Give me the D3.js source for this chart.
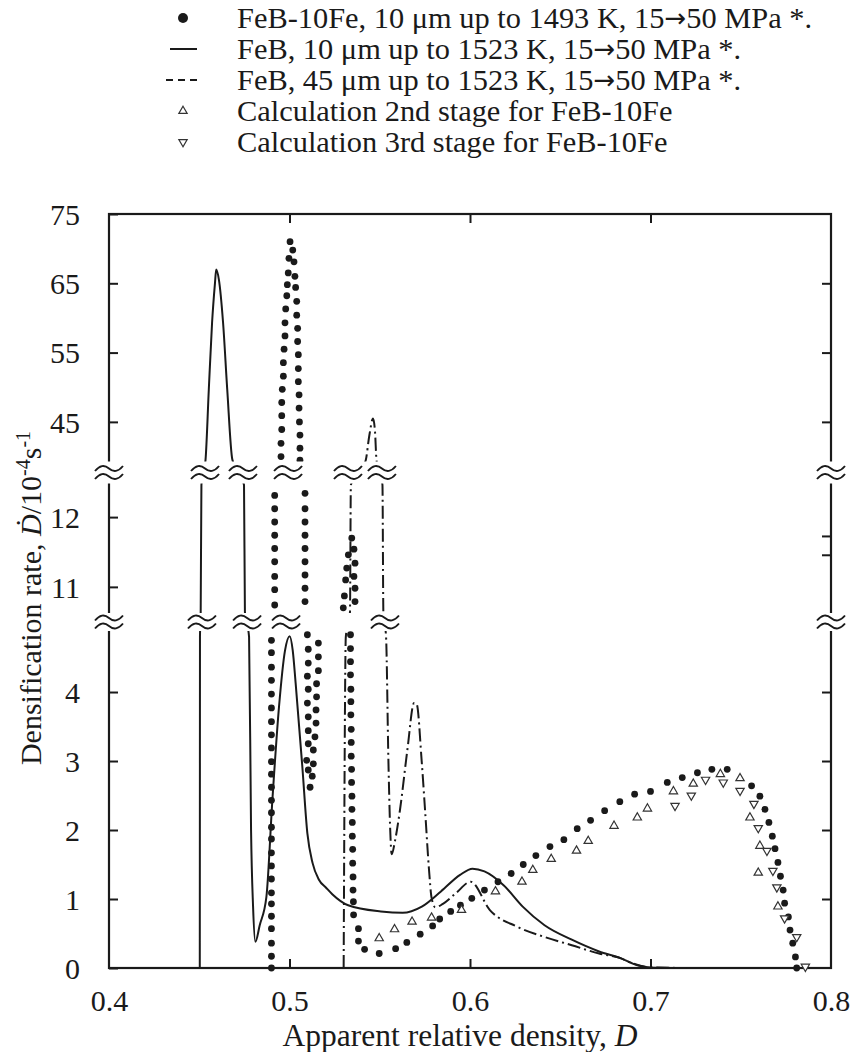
<!DOCTYPE html>
<html>
<head>
<meta charset="utf-8">
<script src="https://cdn.jsdelivr.net/npm/d3@7"></script>
<style>
  body { margin: 0; background: #fff; }
  svg text { font-family: "Liberation Serif", "Times New Roman", "DejaVu Serif", serif; fill: #1a1a1a; }
</style>
</head>
<body>
<div id="chart"></div>
<script>
// x = apparent relative density D, y = densification rate (10^-4 s^-1)
var xTicks = [0.4, 0.5, 0.6, 0.7, 0.8];
var xInnerTicks = [0.5, 0.6, 0.7];
var yTicksLeft = [0, 1, 2, 3, 4, 11, 12, 45, 55, 65, 75];
var yTicksRight = [1, 2, 3, 4, 11.46, 11.73, 45, 55, 65];

// broken axis: bottom 0..4.87, middle 10.64..12.46, top 39.5..75
var yBreaks = [0, 4.87, 10.64, 12.46, 39.5, 75];
var breakUpperX = [0.4, 0.4532, 0.4742, 0.4992, 0.5324, 0.5512, 0.8];
var breakLowerX = [0.4, 0.4515, 0.4765, 0.4981, 0.5529, 0.8];

var legendLabels = [
  "FeB-10Fe, 10 \u03bcm up to 1493 K, 15\u219250 MPa *.",
  "FeB, 10 \u03bcm up to 1523 K, 15\u219250 MPa *.",
  "FeB, 45 \u03bcm up to 1523 K, 15\u219250 MPa *.",
  "Calculation 2nd stage for FeB-10Fe",
  "Calculation 3rd stage for FeB-10Fe"
];

// FeB, 10 um (solid line)
var feb10 = [
  [0.4503, 0], [0.4504, 4.8], [0.4508, 10.6], [0.4512, 12.5], [0.4535, 39.6], [0.4553, 49.7],
  [0.4571, 59.3], [0.4587, 65.0], [0.4594, 67.0], [0.4609, 65.5], [0.4632, 59.3], [0.4655, 49.7],
  [0.4683, 39.6], [0.4748, 12.5], [0.4753, 10.6], [0.4776, 4.8], [0.4787, 2.0], [0.4798, 0.9],
  [0.4811, 0.38], [0.4835, 0.62], [0.4872, 1.03], [0.4905, 2.43], [0.4942, 3.79], [0.4975, 4.6],
  [0.5001, 4.81], [0.5018, 4.6], [0.5034, 4.13], [0.5071, 2.92], [0.5099, 1.95], [0.5128, 1.52],
  [0.5163, 1.28], [0.5204, 1.16], [0.5237, 1.07], [0.5325, 0.91], [0.5506, 0.82], [0.5627, 0.80],
  [0.5733, 0.89], [0.5839, 1.11], [0.5945, 1.35], [0.6014, 1.44], [0.608, 1.40], [0.6186, 1.20],
  [0.6292, 0.89], [0.6413, 0.62], [0.6564, 0.41], [0.6715, 0.24], [0.6837, 0.14], [0.6927, 0.04],
  [0.7017, 0.005], [0.72, 0], [0.78, 0]
];

// FeB, 45 um (dash-dot line)
var feb45 = [
  [0.5300, 0], [0.5312, 4.8], [0.5335, 10.6], [0.5340, 12.5], [0.5422, 39.0], [0.5442, 43.0],
  [0.5463, 45.5], [0.5474, 43.5], [0.5482, 39.0], [0.5515, 12.5], [0.5520, 10.6], [0.5535, 4.8],
  [0.5548, 3.0], [0.5558, 2.0], [0.5566, 1.65], [0.5585, 1.85], [0.5612, 2.29], [0.5653, 3.16],
  [0.5690, 3.84], [0.5705, 3.82], [0.5732, 3.01], [0.5751, 2.29], [0.5773, 1.42], [0.5787, 1.02],
  [0.5808, 0.88], [0.5850, 0.93], [0.5920, 1.08], [0.6004, 1.25], [0.6110, 0.84], [0.6260, 0.60],
  [0.6413, 0.45], [0.6564, 0.33], [0.6715, 0.21], [0.6837, 0.14], [0.6897, 0.07], [0.7000, 0.01],
  [0.7200, 0]
];

// FeB-10Fe measured points
var feb10FeSpike1 = [
  [0.4900, 0], [0.4900, 0.17], [0.4900, 0.36], [0.4900, 0.57], [0.4900, 0.75], [0.4900, 0.93],
  [0.4900, 1.09], [0.4900, 1.29], [0.4900, 1.48], [0.4900, 1.67], [0.4900, 1.87], [0.4900, 2.04],
  [0.4900, 2.25], [0.4900, 2.43], [0.4900, 2.62], [0.4900, 2.81], [0.4900, 2.99], [0.4900, 3.19],
  [0.4900, 3.38], [0.4900, 3.57], [0.4900, 3.77], [0.4900, 3.97], [0.4900, 4.17], [0.4900, 4.36],
  [0.4900, 4.57], [0.4900, 4.75],
  [0.4918, 10.74], [0.4918, 10.96], [0.4918, 11.15], [0.4918, 11.36], [0.4918, 11.55],
  [0.4918, 11.74], [0.4918, 11.93], [0.4918, 12.12], [0.4918, 12.31],
  [0.4953, 40.0], [0.4953, 41.9], [0.4957, 43.9], [0.4957, 45.9], [0.4957, 47.8], [0.4960, 49.7],
  [0.4966, 51.6], [0.4966, 53.55], [0.4970, 55.5], [0.4975, 57.4], [0.4975, 59.3], [0.4979, 61.3],
  [0.4985, 63.2], [0.4988, 64.8], [0.4993, 66.5], [0.4997, 68.6], [0.5003, 71.0],
  [0.5018, 69.8], [0.5025, 68.1], [0.5030, 66.0], [0.5034, 64.4], [0.5040, 62.4], [0.5040, 60.4],
  [0.5045, 58.5], [0.5045, 56.6], [0.5049, 54.7], [0.5049, 52.7], [0.5049, 50.8], [0.5053, 48.9],
  [0.5053, 47.0], [0.5055, 45.0], [0.5058, 43.1], [0.5058, 41.2], [0.5058, 39.3],
  [0.5086, 12.34], [0.5086, 12.12], [0.5086, 11.93], [0.5086, 11.74], [0.5086, 11.55],
  [0.5086, 11.36], [0.5086, 11.17], [0.5086, 10.98], [0.5086, 10.79],
  [0.5099, 4.83], [0.5160, 4.71], [0.5104, 4.62], [0.5160, 4.51], [0.5104, 4.42], [0.5160, 4.31],
  [0.5099, 4.23], [0.5150, 4.12], [0.5104, 4.04], [0.5150, 3.93], [0.5099, 3.84], [0.5147, 3.74],
  [0.5104, 3.64], [0.5147, 3.55], [0.5104, 3.44], [0.5141, 3.35], [0.5104, 3.25], [0.5132, 3.16],
  [0.5095, 3.01], [0.5132, 2.96], [0.5104, 2.87], [0.5126, 2.78], [0.5114, 2.62]
];
var feb10FeSpike2 = [
  [0.5345, 11.70], [0.5326, 11.46], [0.5317, 11.27], [0.5311, 11.10], [0.5304, 10.87], [0.5298, 10.70],
  [0.5357, 11.54], [0.5363, 11.34], [0.5357, 11.15], [0.5363, 10.98], [0.5363, 10.79],
  [0.5338, 4.83], [0.5338, 4.63], [0.5338, 4.44], [0.5338, 4.25], [0.5340, 4.04], [0.5340, 3.86],
  [0.5340, 3.67], [0.5342, 3.46], [0.5342, 3.27], [0.5342, 3.07], [0.5344, 2.88], [0.5344, 2.69],
  [0.5346, 2.49], [0.5346, 2.30], [0.5348, 2.11], [0.5348, 1.91], [0.5350, 1.72], [0.5350, 1.52],
  [0.5352, 1.32], [0.5352, 1.13], [0.5354, 0.96], [0.5355, 0.77]
];
var feb10FeTail = [
  [0.5382, 0.57], [0.5382, 0.39], [0.5416, 0.27], [0.5497, 0.21], [0.5588, 0.28], [0.5650, 0.37],
  [0.5724, 0.49], [0.5793, 0.61], [0.5832, 0.71], [0.5893, 0.82], [0.5947, 0.91], [0.6010, 1.01],
  [0.6080, 1.13], [0.6155, 1.25], [0.6228, 1.37], [0.6295, 1.50], [0.6365, 1.63], [0.6443, 1.76],
  [0.6520, 1.86], [0.6594, 2.02], [0.6668, 2.14], [0.6746, 2.28], [0.6830, 2.41], [0.6912, 2.52],
  [0.7000, 2.56], [0.7093, 2.69], [0.7176, 2.76], [0.7260, 2.83], [0.7340, 2.88], [0.7425, 2.88],
  [0.7560, 2.64], [0.7606, 2.49], [0.7634, 2.30], [0.7656, 2.11], [0.7675, 1.91], [0.7690, 1.73],
  [0.7706, 1.53], [0.7720, 1.33], [0.7735, 1.13], [0.7743, 0.94], [0.7764, 0.74], [0.7773, 0.55],
  [0.7788, 0.36], [0.7803, 0.16], [0.7810, 0]
];

// calculations
var calc2nd = [
  [0.5497, 0.43], [0.5582, 0.56], [0.5679, 0.67], [0.5787, 0.73], [0.5953, 0.84], [0.6141, 1.11],
  [0.6288, 1.25], [0.6348, 1.42], [0.6450, 1.58], [0.6590, 1.70], [0.6655, 1.84], [0.6798, 2.06],
  [0.6927, 2.18], [0.6983, 2.31], [0.7127, 2.56], [0.7237, 2.67], [0.7387, 2.81], [0.7496, 2.75],
  [0.7551, 2.18], [0.7606, 1.77], [0.7597, 1.38], [0.7706, 0.89]
];
var calc3rd = [
  [0.7136, 2.35], [0.7226, 2.50], [0.7305, 2.73], [0.7403, 2.69], [0.7496, 2.57], [0.7573, 2.38],
  [0.7597, 2.03], [0.7645, 1.70], [0.7678, 1.41], [0.7700, 1.17], [0.7743, 0.72], [0.7810, 0.45],
  [0.7858, 0.02]
];

var width = 853, height = 1052;
var ink = "#1a1a1a";
var serif = '"Liberation Serif", "Times New Roman", serif';

var svg = d3.select("#chart").append("svg")
    .attr("width", width)
    .attr("height", height);

var x = d3.scaleLinear().domain([0.4, 0.8]).range([109, 831]);
// piecewise scale: each panel has its own pixel span, the gaps get covered later
var y = d3.scaleLinear().domain(yBreaks).range([968, 632, 612, 485, 460, 214]);

// frame
svg.append("rect")
    .attr("x", x(0.4)).attr("y", y(75))
    .attr("width", x(0.8) - x(0.4)).attr("height", y(0) - y(75))
    .attr("fill", "none").attr("stroke", ink).attr("stroke-width", 2.2);

// axes
var gx = svg.append("g").attr("transform", "translate(0," + y(0) + ")")
    .call(d3.axisBottom(x).tickValues(xTicks).tickFormat(d3.format(".1f"))
        .tickSizeInner(0).tickSizeOuter(0).tickPadding(22));
var gxIn = svg.append("g").attr("transform", "translate(0," + y(0) + ")")
    .call(d3.axisBottom(x).tickValues(xInnerTicks).tickFormat("").tickSizeInner(-9).tickSizeOuter(0));
var gxTop = svg.append("g").attr("transform", "translate(0," + y(75) + ")")
    .call(d3.axisTop(x).tickValues(xInnerTicks).tickFormat("").tickSizeInner(-9).tickSizeOuter(0));
var gy = svg.append("g").attr("transform", "translate(" + x(0.4) + ",0)")
    .call(d3.axisLeft(y).tickValues(yTicksLeft).tickFormat(d3.format("d"))
        .tickSizeInner(-9).tickSizeOuter(0).tickPadding(29));
var gyR = svg.append("g").attr("transform", "translate(" + x(0.8) + ",0)")
    .call(d3.axisRight(y).tickValues(yTicksRight).tickFormat("").tickSizeInner(-9).tickSizeOuter(0));

[gx, gxIn, gxTop, gy, gyR].forEach(function (g) {
    g.select(".domain").remove();
    g.attr("font-family", serif);
    g.selectAll("line").attr("stroke", ink).attr("stroke-width", 2);
    g.selectAll("text").attr("font-size", 30).attr("fill", ink);
});
gy.selectAll("text").attr("dy", "0.34em");

// curves
var line = d3.line()
    .x(function (d) { return x(d[0]); })
    .y(function (d) { return y(d[1]); })
    .curve(d3.curveMonotoneX);

svg.append("path").datum(feb10)
    .attr("d", line).attr("fill", "none")
    .attr("stroke", ink).attr("stroke-width", 2);

svg.append("path").datum(feb45)
    .attr("d", line).attr("fill", "none")
    .attr("stroke", ink).attr("stroke-width", 2)
    .attr("stroke-dasharray", "13,4,2,4");

// measured points
var dots = feb10FeSpike1.concat(feb10FeSpike2, feb10FeTail);
svg.append("g").selectAll("circle")
    .data(dots).enter().append("circle")
    .attr("cx", function (d) { return x(d[0]); })
    .attr("cy", function (d) { return y(d[1]); })
    .attr("r", 3.4)
    .attr("fill", ink);

var tri = d3.symbol().type(d3.symbolTriangle).size(30);
svg.append("g").selectAll("path")
    .data(calc2nd).enter().append("path")
    .attr("d", tri)
    .attr("transform", function (d) { return "translate(" + x(d[0]) + "," + y(d[1]) + ")"; })
    .attr("fill", "#fff").attr("stroke", "#333").attr("stroke-width", 1.2);
svg.append("g").selectAll("path")
    .data(calc3rd).enter().append("path")
    .attr("d", tri)
    .attr("transform", function (d) { return "translate(" + x(d[0]) + "," + y(d[1]) + ") rotate(180)"; })
    .attr("fill", "#fff").attr("stroke", "#333").attr("stroke-width", 1.2);

// cover the axis gaps and put the break marks on top
var bands = [[y(10.64) + 1, y(4.87) - 1], [y(39.5) + 1.5, y(12.46) - 1.5]];
svg.append("g").selectAll("rect")
    .data(bands).enter().append("rect")
    .attr("x", x(0.4) - 4).attr("width", x(0.8) - x(0.4) + 8)
    .attr("y", function (d) { return d[0]; })
    .attr("height", function (d) { return d[1] - d[0]; })
    .attr("fill", "#fff");

var wave = "M-14,2.5 Q-7,-6 0,0 T14,-2.5";
function breakMarks(xs, yc) {
    var g = svg.append("g");
    xs.forEach(function (v) {
        [-4, 4].forEach(function (off) {
            g.append("path")
                .attr("d", wave)
                .attr("transform", "translate(" + x(v) + "," + (yc + off) + ")")
                .attr("fill", "none").attr("stroke", ink).attr("stroke-width", 1.9);
        });
    });
}
breakMarks(breakUpperX, (y(39.5) + y(12.46)) / 2);
breakMarks(breakLowerX, (y(10.64) + y(4.87)) / 2);

// axis titles
svg.append("text")
    .attr("x", 460).attr("y", 1046)
    .attr("text-anchor", "middle").attr("font-size", 31.5)
    .text("Apparent relative density, ")
    .append("tspan").attr("font-style", "italic").text("D");

var yt = svg.append("text")
    .attr("transform", "translate(41,598) rotate(-90)")
    .attr("text-anchor", "middle").attr("font-size", 30);
yt.append("tspan").text("Densification rate, ");
yt.append("tspan").attr("font-style", "italic").text("\u1E0A");
yt.append("tspan").text("/10");
yt.append("tspan").attr("font-size", 20).attr("dy", -11).text("-4");
yt.append("tspan").attr("dy", 11).text("s");
yt.append("tspan").attr("font-size", 20).attr("dy", -11).text("-1");

// legend
var legendY = [18, 49, 80, 111, 142];
var lg = svg.append("g");
legendLabels.forEach(function (t, i) {
    var txt = lg.append("text")
        .attr("x", 237).attr("y", legendY[i] + 10)
        .attr("font-size", 30.4);
    var parts = t.split("\u2192");
    txt.append("tspan").text(parts[0]);
    if (parts.length > 1) {
        txt.append("tspan").attr("font-family", "DejaVu Sans").attr("font-size", 26)
            .attr("dy", -1).text("\u2192");
        txt.append("tspan").attr("dy", 1).text(parts[1]);
    }
});
lg.append("circle").attr("cx", 183).attr("cy", legendY[0]).attr("r", 5).attr("fill", ink);
lg.append("line").attr("x1", 170).attr("x2", 197).attr("y1", legendY[1]).attr("y2", legendY[1])
    .attr("stroke", ink).attr("stroke-width", 2);
lg.append("line").attr("x1", 166).attr("x2", 200).attr("y1", legendY[2]).attr("y2", legendY[2])
    .attr("stroke", ink).attr("stroke-width", 2).attr("stroke-dasharray", "7,5");
lg.append("path").attr("d", tri)
    .attr("transform", "translate(183," + legendY[3] + ")")
    .attr("fill", "#fff").attr("stroke", "#333").attr("stroke-width", 1.2);
lg.append("path").attr("d", tri)
    .attr("transform", "translate(183," + legendY[4] + ") rotate(180)")
    .attr("fill", "#fff").attr("stroke", "#333").attr("stroke-width", 1.2);
</script>
</body>
</html>
